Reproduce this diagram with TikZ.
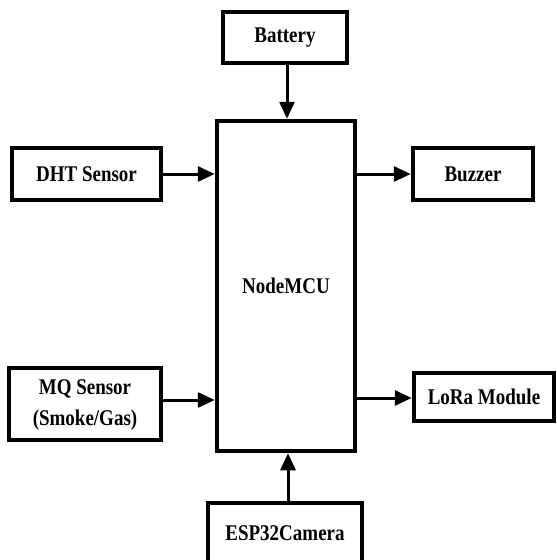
\documentclass[tikz,border=0pt]{standalone}
\usepackage{fontspec}
\setmainfont{Liberation Serif}
\usepackage{graphicx}
\usetikzlibrary{arrows.meta}
\tikzset{
  blk/.style={draw=black, line width=4.5pt, fill=white, inner sep=0pt, align=center,
    font=\fontsize{19}{24}\selectfont\bfseries},
  conn/.style={line width=3pt, -{Triangle[length=17pt,width=15pt]}}
}
\newcommand{\tall}[1]{\scalebox{1}[1.18]{#1}}
\begin{document}
\begin{tikzpicture}[x=1pt,y=1pt]
\useasboundingbox (0,0) rectangle (557,-560);
\clip (0,0) rectangle (557,-560);
\node[blk, minimum width=124pt, minimum height=51pt] (bat) at (285,-37.5) {\tall{Battery}};
\node[blk, minimum width=138pt, minimum height=330pt] (mcu) at (286,-286) {\tall{NodeMCU}};
\node[blk, minimum width=149pt, minimum height=52pt] (dht) at (86.5,-174) {\tall{DHT Sensor}};
\node[blk, minimum width=120pt, minimum height=52pt] (buz) at (473,-174) {\tall{Buzzer}};
\node[blk, minimum width=152pt, minimum height=72pt] (mq) at (85,-404) {\tall{\begin{tabular}{@{}c@{}}MQ Sensor\\[2pt](Smoke/Gas)\end{tabular}}};
\node[blk, minimum width=140pt, minimum height=48pt] (lora) at (484,-397) {\tall{LoRa Module}};
\node[blk, minimum width=154pt, minimum height=60pt] (esp) at (285,-533) {\tall{ESP32Camera}};
\draw[conn] (bat.south -| 287,0) -- (mcu.north -| 287,0);
\draw[conn] (dht.east |- 0,-174) -- (mcu.west |- 0,-174);
\draw[conn] (mcu.east |- 0,-174) -- (buz.west |- 0,-174);
\draw[conn] (mq.east |- 0,-400) -- (mcu.west |- 0,-400);
\draw[conn] (mcu.east |- 0,-398) -- (lora.west |- 0,-398);
\draw[conn] (esp.north -| 288,0) -- (mcu.south -| 288,0);
\end{tikzpicture}
\end{document}
